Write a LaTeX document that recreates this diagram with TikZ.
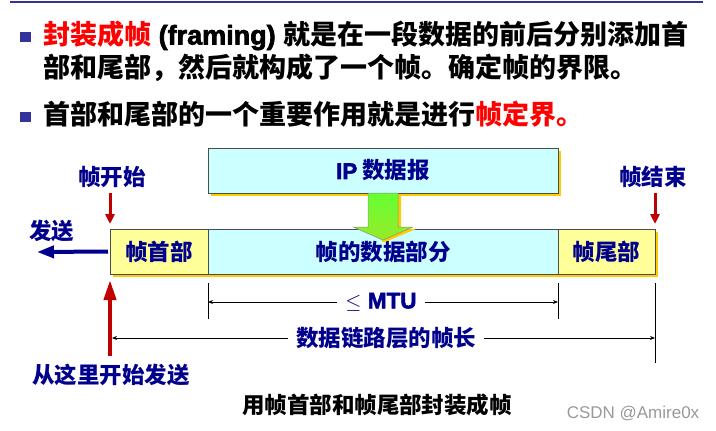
\documentclass[tikz,border=0pt]{standalone}
\usepackage{fontspec}
\setmainfont{Liberation Sans}
\newfontfamily\cjk{Noto Sans CJK SC}
\newfontfamily\lat[FakeBold=2.5]{Liberation Sans}
\usepackage{tikz}
\usetikzlibrary{arrows.meta,shadows}

\definecolor{navyblue}{RGB}{0,0,140}
\definecolor{bulletblue}{RGB}{51,51,153}
\definecolor{darkred}{RGB}{192,0,0}
\definecolor{boxcyan}{RGB}{204,255,255}
\definecolor{boxyellow}{RGB}{255,255,153}
\definecolor{shadowyellow}{RGB}{255,204,0}
\definecolor{arrowgreen}{RGB}{102,255,51}
\definecolor{arrowgreenb}{RGB}{150,235,40}

\begin{document}
\begin{tikzpicture}[x=1pt,y=-1pt,
   bullet/.style={fill=bulletblue, minimum width=11pt, minimum height=10pt, inner sep=0pt},
   textline/.style={anchor=west, inner sep=0pt, text height=23pt, text depth=4pt,
      font=\cjk\bfseries\fontsize{27}{30}\selectfont},
   part/.style={draw=black!70, line width=1pt, fill=#1, minimum height=45pt,
      inner sep=0pt, outer sep=0pt, anchor=north west, text=navyblue,
      font=\cjk\bfseries\fontsize{22.5}{25}\selectfont,
      drop shadow={shadow xshift=3pt, shadow yshift=-3pt, fill=shadowyellow, opacity=1}},
   lbl/.style={text=navyblue, inner sep=1pt, font=\cjk\bfseries\fontsize{22.5}{25}\selectfont},
   dimlbl/.style={lbl, fill=white, inner sep=8pt},
   redtip/.style={draw=darkred, line width=3pt, -{Triangle[length=10pt,width=9pt]}},
   bigtip/.style={draw=darkred, line width=4pt, -{Triangle[length=20pt,width=12pt]}},
   sendtip/.style={draw=navyblue, line width=4pt, -{Triangle[length=17pt,width=12pt]}},
   dim/.style={draw=black, line width=0.8pt, -{Stealth[length=5pt,width=4pt]}},
   tick/.style={draw=black, line width=0.8pt}]
   \useasboundingbox (0,0) rectangle (716,431);

   \draw[bulletblue, line width=2pt] (10,2) -- (703,2);

   % bullet text
   \node(B1)[bullet] at (25,37) {};
   \node(L1)[textline] at (43,35) {\textcolor{red}{封装成帧}{\lat\ (framing) }就是在一段数据的前后分别添加首};
   \node(L2)[textline] at (43,68) {部和尾部，然后就构成了一个帧。确定帧的界限。};
   \node(B2)[bullet] at (25,117) {};
   \node(L3)[textline] at (43,115) {首部和尾部的一个重要作用就是进行\textcolor{red}{帧定界。}};

   % frame
   \node(IP)[part=boxcyan, minimum width=350pt] at (208,148) {{\lat IP} 数据报};
   \node(Hdr)[part=boxyellow, minimum width=98pt] at (110,229) {帧首部};
   \node(Dat)[part=boxcyan, minimum width=350pt] at (Hdr.north east) {帧的数据部分};
   \node(Trl)[part=boxyellow, minimum width=97pt] at (Dat.north east) {帧尾部};

   \fill[shadowyellow] (371,195) -- (401,195) -- (401,229) -- (416,229) -- (385,242) -- (383,242) -- (371,229) -- cycle;
   \draw[draw=black!45, line width=0.5pt, top color=arrowgreen, bottom color=arrowgreenb]
      (368,193) -- (398,193) -- (398,227) -- (413,227) -- (383,240) -- (353,227) -- (368,227) -- cycle;

   % labels and arrows
   \node(NStart)[lbl] at (112,177) {帧开始};
   \draw[redtip, shorten <=4pt, shorten >=5pt] (NStart.south -| Hdr.north west) -- (Hdr.north west);
   \node(NEnd)[lbl] at (653,177) {帧结束};
   \draw[redtip, shorten <=4pt, shorten >=5pt] (NEnd.south -| Trl.north east) -- (Trl.north east);

   \node(NSend)[lbl] at (52,231) {发送};
   \coordinate(SendTip) at (37,252);
   \draw[sendtip, shorten <=2pt] (Hdr.west) -- (SendTip);

   % dimensions
   \draw[tick] ([yshift=-9pt]Dat.south west) -- ++(0,36);
   \draw[tick] ([yshift=-9pt]Dat.south east) -- ++(0,36);
   \draw[tick] ([yshift=-9pt]Trl.south east) -- ++(0,80);
   \node(MTU)[dimlbl] at (381,302) {\lat $\leq$ MTU};
   \draw[dim] (MTU) -- (Dat.south west |- MTU);
   \draw[dim] (MTU) -- (Dat.south east |- MTU);
   \node(Len)[dimlbl] at (386,338) {数据链路层的帧长};
   \draw[dim] (Len) -- ([xshift=2pt]Hdr.south west |- Len);
   \draw[dim] (Len) -- (Trl.south east |- Len);

   \node(NOrigin)[lbl] at (111,375) {从这里开始发送};
   \draw[bigtip, shorten <=7pt, shorten >=6pt] (NOrigin.north -| Hdr.south west) -- (Hdr.south west);

   \node(Cap)[font=\cjk\bfseries\fontsize{22.5}{24}\selectfont] at (377,405) {用帧首部和帧尾部封装成帧};
   \node(WMark)[text=black!40, font=\rmfamily\fontsize{17}{19}\selectfont] at (633,414) {CSDN @Amire0x};
\end{tikzpicture}
\end{document}
